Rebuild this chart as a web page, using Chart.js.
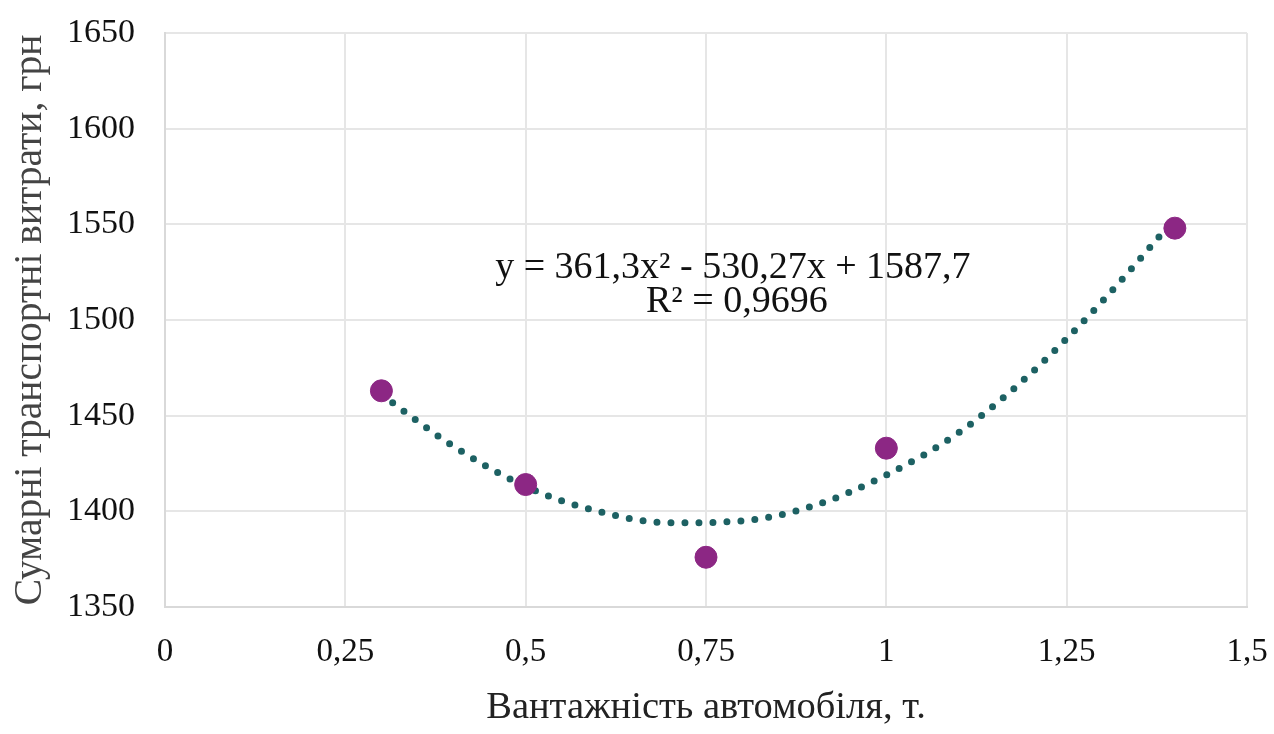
<!DOCTYPE html>
<html lang="uk">
<head>
<meta charset="utf-8">
<title>Сумарні транспортні витрати</title>
<script src="https://cdn.jsdelivr.net/npm/chart.js@4/dist/chart.umd.min.js"></script>
<style>
  html, body { margin: 0; padding: 0; background: #fff; }
  #wrap { width: 1274px; height: 734px; }
</style>
</head>
<body>
<div id="wrap"><canvas id="chart"></canvas></div>
<script>
// Вантажність, т / сумарні витрати, грн
const capacity = [0.3, 0.5, 0.75, 1.0, 1.4];
const costs = [1463, 1414, 1376, 1433, 1548];

// точки лінії тренду
const trendX = [0.3, 0.4, 0.5, 0.6, 0.7, 0.8, 0.9, 1.0, 1.1, 1.2, 1.3, 1.4];
const trendY = [1461, 1434, 1413, 1400, 1394, 1395, 1403, 1419, 1441, 1472, 1510, 1553];

const xTicks = [0, 0.25, 0.5, 0.75, 1, 1.25, 1.5];
const yTicks = [1350, 1400, 1450, 1500, 1550, 1600, 1650];

const equationLines = ['y = 361,3x² - 530,27x + 1587,7', 'R² = 0,9696'];

const SERIF = '"Liberation Serif", "Times New Roman", serif';
const gridColor = '#e6e6e6';
const textColor = '#111';

const fmt = v => String(v).replace('.', ',');

/** Підпис рівняння тренду */
const equationLabel = {
  id: 'equationLabel',
  afterDatasetsDraw(chart) {
    const { ctx, scales } = chart;
    const cx = scales.x.getPixelForValue(0.79);
    const cy = scales.y.getPixelForValue(1527);
    ctx.save();
    ctx.font = '38px ' + SERIF;
    ctx.fillStyle = textColor;
    ctx.textAlign = 'center';
    ctx.textBaseline = 'middle';
    ctx.fillText(equationLines[0], cx - 2, cy);
    ctx.fillText(equationLines[1], cx + 2, cy + 34);
    ctx.restore();
  }
};

new Chart(document.getElementById('chart'), {
  type: 'scatter',
  data: {
    datasets: [
      {
        label: 'Тренд',
        type: 'line',
        data: trendX.map((x, i) => ({ x, y: trendY[i] })),
        borderColor: '#1d6163',
        borderWidth: 7,
        borderDash: [0, 14],
        borderCapStyle: 'round',
        cubicInterpolationMode: 'monotone',
        pointRadius: 0,
        fill: false,
        order: 2
      },
      {
        label: 'Витрати',
        data: capacity.map((x, i) => ({ x, y: costs[i] })),
        backgroundColor: '#8c2784',
        borderColor: '#8c2784',
        pointRadius: 11,
        pointHoverRadius: 11,
        order: 1
      }
    ]
  },
  options: {
    responsive: true,
    maintainAspectRatio: false,
    animation: false,
    layout: { padding: { top: 33, right: 27, left: 0, bottom: 0 } },
    plugins: {
      legend: { display: false },
      tooltip: { enabled: false }
    },
    scales: {
      x: {
        type: 'linear',
        min: 0,
        max: 1.5,
        afterBuildTicks: s => { s.ticks = xTicks.map(v => ({ value: v })); },
        afterFit: s => {
          s.height = 127;
          s.paddingLeft = 0;
          s.paddingRight = 0;
        },
        grid: { color: gridColor, lineWidth: 2, drawTicks: false },
        border: { color: '#d9d9d9', width: 2 },
        ticks: {
          color: textColor,
          padding: 26,
          font: { family: SERIF, size: 33 },
          callback: v => fmt(v)
        },
        title: {
          display: true,
          text: 'Вантажність автомобіля, т.',
          color: '#222',
          font: { family: SERIF, size: 38.5, lineHeight: 1.15 }
        }
      },
      y: {
        min: 1350,
        max: 1650,
        afterBuildTicks: s => { s.ticks = yTicks.map(v => ({ value: v })); },
        afterFit: s => {
          s.width = 165;
          s.paddingTop = 0;
          s.paddingBottom = 0;
        },
        grid: { color: gridColor, lineWidth: 2, drawTicks: false },
        border: { color: '#d9d9d9', width: 2 },
        ticks: {
          color: textColor,
          padding: 30,
          font: { family: SERIF, size: 34 },
          callback: v => String(v)
        },
        title: {
          display: true,
          text: 'Сумарні транспортні витрати, грн',
          color: '#444',
          font: { family: SERIF, size: 39.5, lineHeight: 1.35 }
        }
      }
    }
  },
  plugins: [equationLabel]
});
</script>
</body>
</html>
